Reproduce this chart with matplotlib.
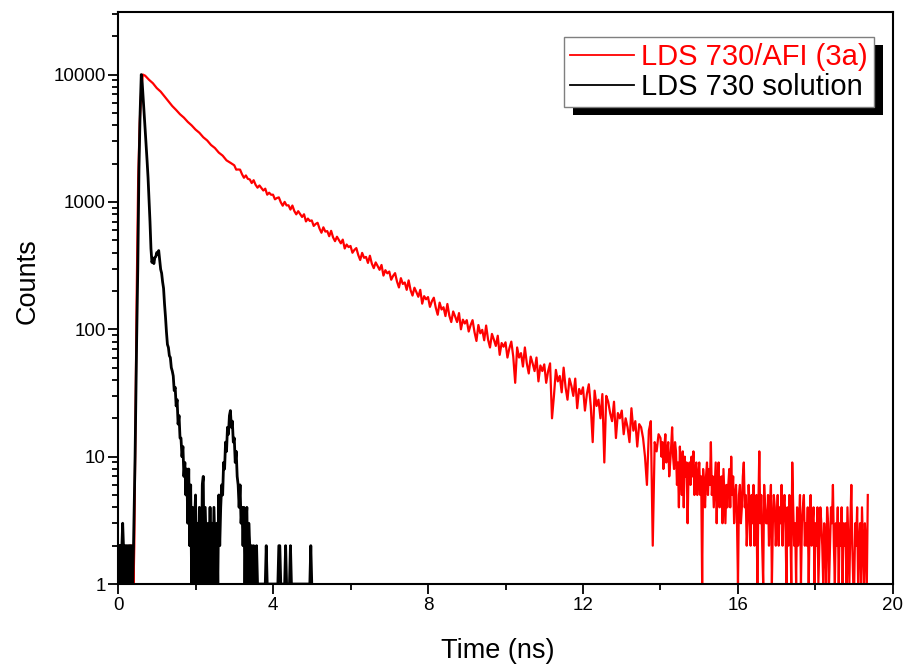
"""
Fluorescence decay: LDS 730 in AFI (3a) vs LDS 730 solution, log counts vs time.
Values read off the reference picture by hand.
"""
import numpy as np
import matplotlib
matplotlib.use("Agg")
import matplotlib.pyplot as plt
from matplotlib.ticker import MultipleLocator, LogLocator, FuncFormatter, NullFormatter
from matplotlib.patches import Rectangle
from matplotlib.lines import Line2D

plt.rcParams["font.family"] = ["Liberation Sans", "DejaVu Sans"]

# ---------------- DATA ----------------
# LDS 730/AFI (3a): rising edge (explicit times), then decay on channel grids
red_rise_t = [0.32, 0.34, 0.36, 0.38, 0.40, 0.42, 0.45, 0.48, 0.52, 0.56, 0.60, 0.64]
red_rise_c = [2, 1, 2, 2, 1, 2, 20, 170, 1500, 4200, 7600, 10000]

red_a_t0, red_a_dt = 0.7, 0.1          # channels 0.7 .. 2.9 ns
red_a_c = [9800, 9100, 8550, 7830, 7350, 6740, 6190, 5660, 5270, 4880,
           4590, 4250, 3990, 3700, 3490, 3220, 3040, 2800, 2650, 2440,
           2310, 2120, 2030]

red_b_t0, red_b_dt = 3.0, 0.05         # channels 3.0 .. 13.95 ns
red_b_c = [1939, 1793, 1798, 1793, 1650, 1548, 1614, 1517, 1503, 1407,
           1481, 1363, 1294, 1347, 1288, 1229, 1271, 1140, 1182, 1138,
           1140, 1048, 1073, 1086, 995, 934, 1001, 939, 941, 871,
           937, 848, 799, 846, 804, 762, 800, 703, 740, 709,
           716, 648, 671, 686, 618, 573, 632, 585, 590, 538,
           593, 527, 492, 533, 502, 473, 506, 431, 463, 442,
           451, 399, 420, 434, 383, 350, 398, 364, 370, 332,
           378, 328, 302, 335, 314, 293, 320, 264, 291, 275,
           284, 245, 263, 276, 237, 213, 252, 227, 233, 204,
           242, 203, 184, 212, 196, 180, 204, 159, 182, 172,
           179, 150, 166, 177, 148, 130, 162, 143, 149, 127,
           158, 128, 114, 138, 126, 114, 134, 100, 119, 111,
           118, 96, 108, 118, 95, 81, 108, 93, 99, 82,
           107, 83, 72, 92, 83, 74, 89, 63, 78, 73,
           79, 60, 71, 80, 61, 38, 72, 60, 65, 51,
           72, 54, 45, 61, 54, 47, 60, 39, 52, 47,
           53, 38, 47, 54, 20, 30, 48, 39, 43, 32,
           50, 35, 28, 41, 36, 30, 41, 24, 34, 31,
           35, 23, 31, 37, 25, 13, 33, 25, 28, 20,
           31, 9, 30, 27, 22, 19, 27, 14, 22, 20,
           23, 15, 20, 17, 13, 24, 16, 19, 12, 18,
           17, 14, 10, 6, 16, 19, 2, 13, 11, 15]

red_c_t0, red_c_dt = 14.0, 0.025       # channels 14.0 .. 19.35 ns
red_c_c = [14, 10, 13, 8, 12, 15, 9, 11, 13, 7,
           9, 12, 17, 10, 8, 13, 11, 6, 9, 4,
           12, 8, 5, 11, 4, 10, 7, 9, 3, 8,
           9, 6, 10, 7, 11, 5, 8, 9, 5, 7,
           9, 5, 7, 1, 8, 6, 4, 7, 9, 5,
           8, 6, 13, 5, 7, 4, 6, 9, 3, 7,
           9, 4, 6, 7, 3, 8, 5, 3, 6, 4,
           6, 8, 4, 10, 5, 7, 3, 5, 6, 3,
           1, 5, 6, 3, 4, 7, 9, 4, 5, 2,
           3, 6, 4, 2, 5, 3, 6, 2, 4, 5,
           1, 4, 11, 3, 5, 2, 1, 6, 4, 3,
           3, 5, 2, 4, 6, 1, 3, 5, 4, 2,
           3, 5, 2, 4, 3, 6, 2, 4, 5, 3,
           1, 4, 2, 5, 3, 1, 9, 4, 2, 3,
           1, 4, 2, 3, 5, 1, 3, 4, 5, 2,
           3, 2, 4, 1, 3, 5, 2, 3, 4, 1,
           3, 2, 4, 1, 2, 4, 3, 2, 1, 3,
           2, 1, 4, 3, 1, 2, 4, 3, 6, 2,
           1, 3, 2, 4, 1, 3, 2, 4, 1, 3,
           2, 3, 1, 4, 2, 1, 3, 6, 2, 1,
           1, 3, 2, 4, 1, 2, 3, 1, 4, 2,
           1, 3, 2, 1, 5]

# LDS 730 solution: background, rising edge, decay
black_pre_t0, black_pre_dt = 0.0, 0.02
black_pre_c = [2, 1, 2, 2, 1, 2, 3, 2, 1, 2, 2, 1, 2, 1, 2, 2, 1, 2, 1, 1]

black_rise_t = [0.40, 0.44, 0.48, 0.51, 0.54, 0.57, 0.60]
black_rise_c = [2, 10, 80, 300, 1800, 5000, 10000]

black_dec_t0, black_dec_dt = 0.625, 0.025   # channels 0.625 .. 5.0 ns
black_dec_c = [8500, 6500, 4900, 3700, 2800, 2100, 1550, 1050,
               700, 430, 335, 362, 328, 366, 372, 401,
               388, 415, 352, 296, 276, 236, 210, 158,
               125, 95, 76, 72, 62, 60, 50, 47,
               43, 33, 35, 25, 28, 18, 21, 14,
               14, 10, 12, 7, 9, 5, 8, 3,
               8, 2, 6, 1, 4, 1, 3, 5,
               1, 3, 1, 4, 2, 1, 6, 7,
               1, 4, 2, 1, 3, 1, 4, 1,
               3, 1, 4, 2, 1, 3, 1, 5,
               2, 4, 6, 5, 9, 8, 13, 11,
               17, 15, 21, 23, 17, 19, 13, 14,
               9, 11, 7, 6, 4, 6, 3, 4,
               2, 4, 1, 3, 4, 1, 3, 2,
               1, 2, 1, 2, 1, 1, 2, 1,
               1, 1, 1, 1, 1, 1, 1, 1,
               2, 1, 1, 1, 1, 1, 1, 1,
               1, 1, 1, 1, 1, 2, 2, 1,
               1, 1, 1, 1, 2, 1, 1, 1,
               1, 2, 1, 1, 1, 1, 1, 1,
               1, 1, 1, 1, 1, 1, 1, 1,
               1, 1, 1, 1, 1, 1, 2, 1]

labels = ["LDS 730/AFI (3a)", "LDS 730 solution"]

# ---------------- assemble ----------------
def grid(t0, dt, c):
    return t0 + dt * np.arange(len(c))

red_t = np.concatenate([red_rise_t, grid(red_a_t0, red_a_dt, red_a_c),
                        grid(red_b_t0, red_b_dt, red_b_c),
                        grid(red_c_t0, red_c_dt, red_c_c)])
red_n = np.concatenate([red_rise_c, red_a_c, red_b_c, red_c_c])
blk_t = np.concatenate([grid(black_pre_t0, black_pre_dt, black_pre_c), black_rise_t,
                        grid(black_dec_t0, black_dec_dt, black_dec_c)])
blk_n = np.concatenate([black_pre_c, black_rise_c, black_dec_c])

RED = "#ff0000"

# ---------------- plot ----------------
fig = plt.figure(figsize=(9.1, 6.66), dpi=100)
ax = fig.add_axes([0.1297, 0.1231, 0.8516, 0.8589])

ax.plot(red_t, red_n, color=RED, lw=1.6, zorder=2)
ax.plot(blk_t, blk_n, color="black", lw=2.0, zorder=3)

ax.set_yscale("log")
ax.set_xlim(0, 20)
ax.set_ylim(1, 3.1e4)
ax.xaxis.set_major_locator(MultipleLocator(4))
ax.xaxis.set_minor_locator(MultipleLocator(2))
ax.yaxis.set_major_locator(LogLocator(base=10))
ax.yaxis.set_minor_locator(LogLocator(base=10, subs=np.arange(2, 10)))
ax.yaxis.set_major_formatter(FuncFormatter(lambda v, p: f"{v:g}"))
ax.yaxis.set_minor_formatter(NullFormatter())

for s in ax.spines.values():
    s.set_linewidth(1.5)
ax.tick_params(which="both", direction="out", top=False, right=False,
               width=1.3, labelsize=13.5, pad=2)
ax.tick_params(which="major", length=7)
ax.tick_params(which="minor", length=4)

ax.set_xlabel("Time (ns)", fontsize=19.5)
ax.set_ylabel("Counts", fontsize=19.5)
ax.xaxis.set_label_coords(0.49, -0.095)
ax.yaxis.set_label_coords(-0.10, 0.53)

handles = [Line2D([], [], color=RED, lw=1.3), Line2D([], [], color="black", lw=1.3)]
leg = ax.legend(handles, labels, loc="upper right", bbox_to_anchor=(0.975, 0.956),
                fontsize=21, frameon=True, fancybox=False, framealpha=1,
                edgecolor="#7f7f7f", borderaxespad=0, borderpad=0.2,
                labelspacing=0.06, handlelength=2.2, handletextpad=0.25)
leg.get_frame().set_linewidth(1.0)
leg.get_texts()[0].set_color(RED)

# solid black drop shadow behind the legend box
fig.canvas.draw()
bb = leg.get_window_extent()
inv = ax.transAxes.inverted()
x0, y0 = inv.transform((bb.x0 + 9, bb.y0 - 8))
x1, y1 = inv.transform((bb.x1 + 9, bb.y1 - 8))
ax.add_patch(Rectangle((x0, y0), x1 - x0, y1 - y0, transform=ax.transAxes,
                       facecolor="black", edgecolor="none", clip_on=False, zorder=4.5))

fig.savefig("out.png", dpi=100)
